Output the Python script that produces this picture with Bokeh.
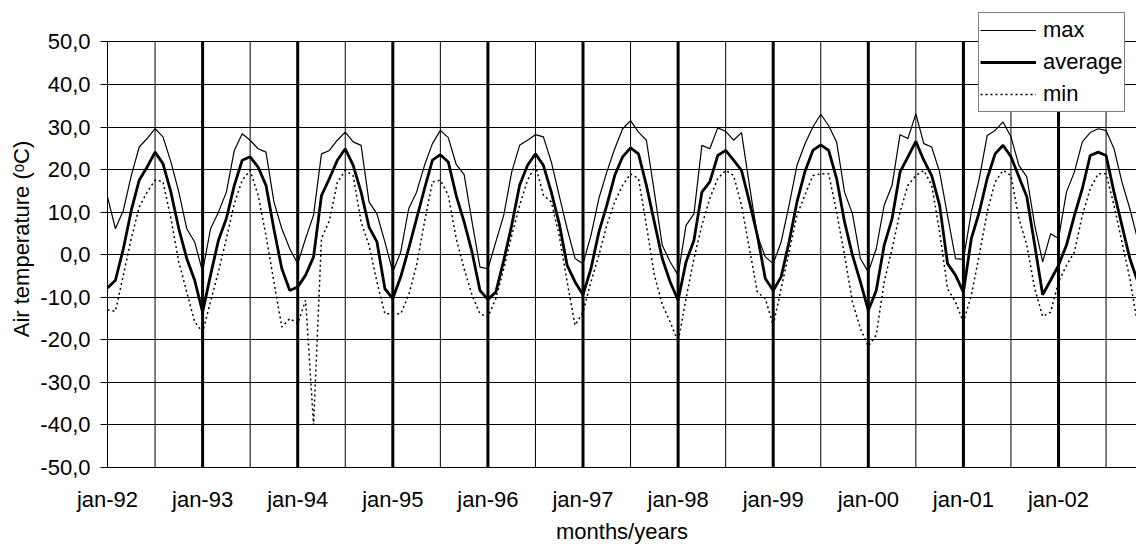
from bokeh.plotting import figure
from bokeh.models import FixedTicker, Legend, LegendItem, ColumnDataSource, Range1d
from bokeh.embed import file_html
from bokeh.resources import INLINE

# month index 0 = jan-92
t_max = [13.6, 6.1, 10.4, 18.6, 25.3, 27.3, 29.6, 27.7, 21.8, 14.7, 6.1, 3.0,
         -4.0, 6.1, 10.0, 14.7, 24.5, 28.4, 26.9, 24.9, 24.1, 12.4, 6.1, 1.4,
         -2.1, 3.8, 9.3, 23.7, 24.5, 26.9, 28.8, 26.5, 25.7, 12.4, 9.6, 3.0,
         -4.0, 0.6, 10.8, 14.7, 21.0, 26.1, 29.2, 27.5, 21.2, 18.8, 7.7, -2.9,
         -3.3, 3.0, 9.3, 19.4, 25.7, 26.9, 28.2, 27.7, 21.8, 13.9, 6.1, -0.9,
         -2.1, 4.5, 13.2, 19.4, 24.9, 29.6, 31.5, 28.8, 26.9, 14.7, 2.2, -1.7,
         -4.8, 6.9, 9.6, 25.7, 24.9, 29.8, 29.0, 26.9, 28.7, 16.3, 4.5, -0.5,
         -2.1, 3.0, 11.6, 21.0, 26.0, 30.0, 33.0, 30.3, 26.5, 14.7, 9.6, -0.9,
         -4.1, 1.4, 11.6, 16.3, 28.2, 27.3, 33.1, 26.1, 25.3, 19.4, 9.2, -0.9,
         -1.1, 10.0, 17.9, 28.0, 29.2, 31.2, 27.7, 21.0, 18.3, 6.9, -1.7, 4.9,
         3.8, 14.7, 19.4, 26.5, 28.7, 29.6, 29.2, 24.9, 17.1, 10.8, 3.5]

t_avg = [-7.8, -6.0, 1.4, 10.4, 17.5, 20.6, 24.1, 21.4, 14.7, 6.1, -0.9, -6.0,
         -13.5, -4.8, 3.4, 8.5, 16.3, 22.2, 23.0, 20.6, 16.3, 6.0, -3.3, -8.4,
         -7.6, -4.8, -0.5, 13.9, 17.9, 22.2, 24.9, 21.0, 14.7, 6.5, 3.0, -8.0,
         -10.3, -5.2, 1.4, 8.5, 15.5, 22.2, 23.5, 21.8, 13.9, 7.7, 0.6, -8.4,
         -10.5, -8.8, -1.3, 6.9, 16.3, 21.0, 23.7, 21.0, 14.7, 7.3, -2.5, -6.4,
         -9.4, -3.3, 5.3, 11.6, 18.6, 23.0, 25.1, 23.7, 16.3, 7.7, -0.9, -6.4,
         -10.7, -1.7, 3.4, 14.7, 17.1, 23.3, 24.5, 22.2, 19.8, 12.4, 4.5, -5.6,
         -8.4, -5.2, 3.0, 12.4, 19.5, 24.5, 25.8, 24.5, 17.9, 7.7, -0.1, -6.4,
         -13.1, -8.4, 2.2, 8.5, 19.4, 23.0, 26.6, 22.2, 18.6, 11.6, -2.1, -4.8,
         -8.8, 3.8, 10.0, 17.9, 23.7, 25.7, 23.0, 18.3, 13.6, 2.2, -9.4, -6.0,
         -2.5, 2.2, 9.2, 15.5, 23.3, 24.1, 23.3, 14.7, 6.9, -0.9, -6.4]

t_min = [-13.0, -13.3, -4.8, 3.8, 11.2, 14.7, 17.5, 17.2, 8.5, -1.7, -8.8, -15.8,
         -18.2, -11.0, -4.0, 3.8, 12.0, 17.5, 19.8, 14.0, 4.5, -6.4, -17.0, -15.0,
         -16.2, -10.7, -40.0, 3.8, 8.0, 17.0, 19.8, 18.6, 7.7, 2.2, -6.4, -13.9,
         -13.9, -13.9, -9.5, -2.5, 7.7, 17.1, 17.5, 14.0, 3.8, -3.3, -9.5, -13.9,
         -14.6, -10.3, -3.3, 4.5, 11.6, 17.5, 21.0, 14.0, 12.4, 4.5, -6.4, -16.6,
         -13.5, -6.4, -0.1, 6.9, 12.4, 16.3, 19.0, 17.9, 6.9, -4.8, -11.7, -15.8,
         -20.5, -10.3, -0.9, 6.9, 13.2, 17.9, 19.8, 18.6, 11.6, 1.4, -8.8, -10.3,
         -16.6, -8.0, 0.6, 9.3, 14.0, 18.6, 19.0, 19.0, 10.0, -0.1, -11.1, -17.4,
         -21.5, -18.9, -6.4, 1.4, 10.0, 16.3, 18.6, 19.8, 16.3, 5.3, -8.0, -11.1,
         -15.8, -9.5, -0.1, 10.0, 17.1, 19.8, 18.6, 8.5, 2.2, -8.0, -14.5, -13.5,
         -6.4, -2.5, 0.6, 9.2, 15.5, 19.0, 19.0, 11.6, 3.0, -5.6, -16.6]

months = list(range(len(t_avg)))

year_ticks = [0, 12, 24, 36, 48, 60, 72, 84, 96, 108, 120]
tick_labels = ["jan-92", "jan-93", "jan-94", "jan-95", "jan-96", "jan-97",
               "jan-98", "jan-99", "jan-00", "jan-01", "jan-02"]
mid_ticks = [6, 18, 30, 42, 54, 66, 78, 90, 102, 114, 126]
y_ticks = [-50, -40, -30, -20, -10, 0, 10, 20, 30, 40, 50]
y_labels = ["-50,0", "-40,0", "-30,0", "-20,0", "-10,0", "0,0",
            "10,0", "20,0", "30,0", "40,0", "50,0"]

FONT = "Liberation Sans"
FS = "22px"
Y_LO, Y_HI = y_ticks[0], y_ticks[-1]

src = ColumnDataSource(dict(m=months, tmax=t_max, tavg=t_avg, tmin=t_min))

p = figure(width=1136, height=547, output_backend="svg", toolbar_location=None,
           x_range=Range1d(0, 129.84), y_range=Range1d(-50, 57.38),
           min_border_left=107, min_border_right=0, min_border_top=10,
           min_border_bottom=80)
p.outline_line_color = None
p.background_fill_color = "white"
p.border_fill_color = "white"

# y axis
p.yaxis.ticker = FixedTicker(ticks=y_ticks)
p.yaxis.bounds = (Y_LO, Y_HI)
p.yaxis.major_label_overrides = {v: s for v, s in zip(y_ticks, y_labels)}
p.yaxis.minor_tick_line_color = None
p.yaxis.major_tick_out = 7
p.yaxis.major_tick_in = 0
p.yaxis.major_label_standoff = 10
p.yaxis.axis_label = "Air temperature (\u1d52C)"
p.yaxis.axis_label_standoff = 3
p.yaxis.axis_line_color = "black"
p.yaxis.major_tick_line_color = "black"

# x axis
p.xaxis.ticker = FixedTicker(ticks=year_ticks)
p.xaxis.major_label_overrides = {v: s for v, s in zip(year_ticks, tick_labels)}
p.xaxis.minor_tick_line_color = None
p.xaxis.major_tick_out = 0
p.xaxis.major_tick_in = 0
p.xaxis.major_label_standoff = 19
p.xaxis.axis_label = "months/years"
p.xaxis.axis_label_standoff = 4
p.xaxis.axis_line_color = "black"

for ax in (p.xaxis, p.yaxis):
    ax.major_label_text_font = FONT
    ax.major_label_text_font_size = FS
    ax.major_label_text_color = "black"
    ax.axis_label_text_font = FONT
    ax.axis_label_text_font_size = FS
    ax.axis_label_text_font_style = "normal"
    ax.axis_label_text_color = "black"

# horizontal grid
p.ygrid.ticker = FixedTicker(ticks=y_ticks)
p.ygrid.grid_line_color = "black"
p.ygrid.grid_line_width = 1
p.xgrid.grid_line_color = None

# vertical grid lines (only between -50 and 50)
p.segment(x0=mid_ticks, y0=[Y_LO] * len(mid_ticks), x1=mid_ticks,
          y1=[Y_HI] * len(mid_ticks), line_color="black", line_width=1)
p.segment(x0=year_ticks[1:], y0=[Y_LO] * 10, x1=year_ticks[1:],
          y1=[Y_HI] * 10, line_color="black", line_width=3)

r_max = p.line("m", "tmax", source=src, line_color="black", line_width=1.2)
r_avg = p.line("m", "tavg", source=src, line_color="black", line_width=2.8)
r_min = p.line("m", "tmin", source=src, line_color="black", line_width=1.5,
               line_dash="2 3")

legend = Legend(items=[LegendItem(label="max", renderers=[r_max]),
                       LegendItem(label="average", renderers=[r_avg]),
                       LegendItem(label="min", renderers=[r_min])],
                location=(871, 355), margin=0, padding=1, spacing=0,
                glyph_width=56, glyph_height=32, label_height=32,
                label_standoff=7, label_text_font=FONT, label_text_font_size=FS,
                label_text_color="black", border_line_color="black",
                border_line_width=1, background_fill_color="white",
                background_fill_alpha=1.0)
p.add_layout(legend)

open("out.html", "w").write(file_html(p, INLINE))
